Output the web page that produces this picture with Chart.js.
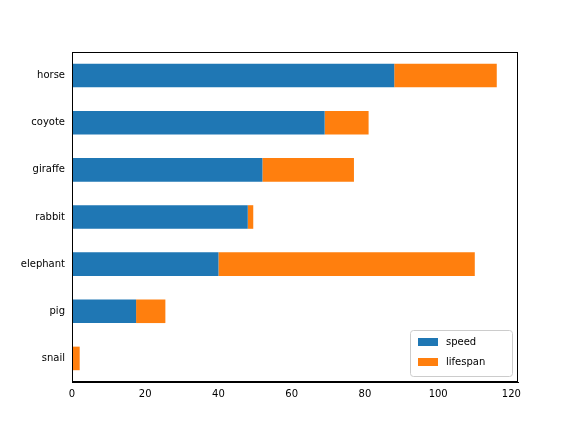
<!DOCTYPE html>
<html><head><script src="https://cdn.jsdelivr.net/npm/chart.js@4"></script>
<style>body{margin:0}#w{width:576px;height:432px}</style></head>
<body><div id="w"><canvas id="c"></canvas></div>
<script>
const categories = ["snail","pig","elephant","rabbit","giraffe","coyote","horse"];
const speed = [0.1, 17.5, 40, 48, 52, 69, 88];
const lifespan = [2, 8, 70, 1.5, 25, 12, 28];
const xTicks = [0,20,40,60,80,100,120];
const font = {family:"DejaVu Sans", size:10};
const legendPlugin = {
  id:'lg',
  afterDraw(ch){
    const a=ch.chartArea, c=ch.ctx;
    const w=102,h=46,x=a.right-w-6,y=a.bottom-h-6;
    c.save();
    c.fillStyle='rgba(255,255,255,0.8)';c.strokeStyle='#ccc';c.lineWidth=1;
    c.beginPath();c.roundRect(x+0.5,y+0.5,w,h,3);c.fill();c.stroke();
    const items=[['speed','#1f77b4'],['lifespan','#ff7f0e']];
    c.font='10px "DejaVu Sans"';c.textBaseline='middle';
    items.forEach((it,i)=>{
      const yy=y+12+i*20;
      c.fillStyle=it[1];c.fillRect(x+8,yy-4,20,8);
      c.fillStyle='#000';c.fillText(it[0],x+36,yy);
    });
    c.restore();
  }
};
new Chart(document.getElementById('c'),{
  type:'bar',
  data:{labels:categories,datasets:[
    {label:'speed',data:speed,backgroundColor:'#1f77b4',barPercentage:0.5,categoryPercentage:1},
    {label:'lifespan',data:lifespan,backgroundColor:'#ff7f0e',barPercentage:0.5,categoryPercentage:1}
  ]},
  options:{
    indexAxis:'y',responsive:true,maintainAspectRatio:false,animation:false,
    layout:{padding:{top:52,right:58,bottom:0,left:0}},
    plugins:{legend:{display:false},tooltip:{enabled:false}},
    scales:{
      x:{stacked:true,min:0,max:121.8,
        afterBuildTicks(ax){ax.ticks=xTicks.map(v=>({value:v}));},
        afterFit(ax){ax.height=50;},
        grid:{display:false,drawTicks:true,tickLength:4,tickColor:'#000'},
        border:{color:'#000'},
        ticks:{color:'#000',font,padding:2,maxRotation:0}},
      y:{stacked:true,reverse:true,
        afterFit(ax){ax.width=72;},
        grid:{display:false,tickLength:4,tickColor:'#000'},
        border:{color:'#000'},
        ticks:{color:'#000',font,padding:3}}
    }
  },
  plugins:[legendPlugin,{id:'frame',afterDraw(ch){const a=ch.chartArea,c=ch.ctx;c.save();c.strokeStyle='#000';c.lineWidth=1;c.strokeRect(a.left+0.5,a.top+0.5,a.right-a.left-1,a.bottom-a.top-1);c.restore();}}]
});
</script></body></html>
